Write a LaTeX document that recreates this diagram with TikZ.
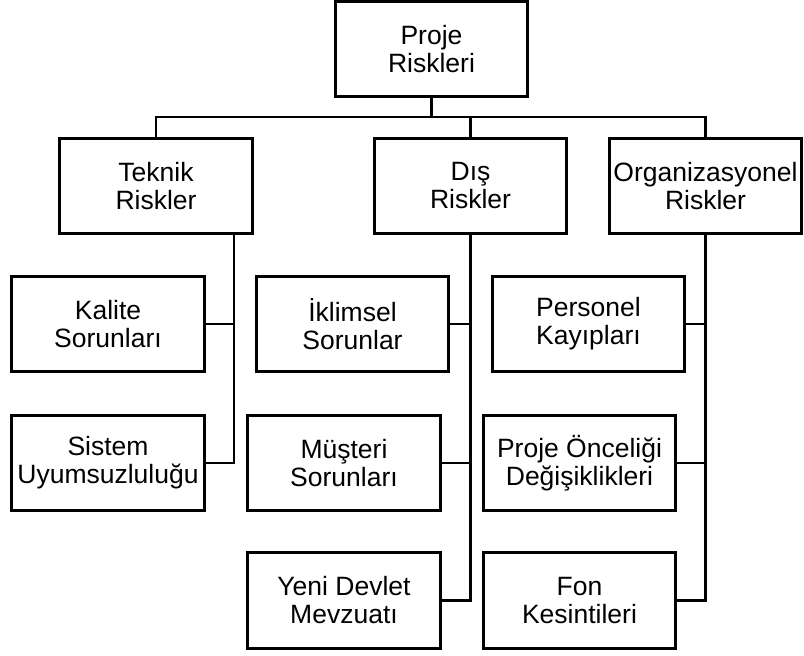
\documentclass[tikz,border=0pt]{standalone}
\usepackage{fontspec}
\setmainfont{Liberation Sans}
\usetikzlibrary{calc}

\begin{document}
\begin{tikzpicture}[x=1pt,y=-1pt,
        kutu/.style={draw, line width=2.6pt, minimum width=192.5pt, minimum height=95.5pt,
            inner sep=0pt, align=center, font=\fontsize{26.5}{28}\selectfont},
        hat/.style={line width=2.2pt}]
        \useasboundingbox (0,0) rectangle (804,656);
        \node[kutu] (proje) at (431.5,49) {Proje\\Riskleri};
        \node[kutu] (teknik) at (156,186) {Teknik\\Riskler};
        \node[kutu] (dis) at (470.5,186) {Dış\\Riskler};
        \node[kutu] (org) at (705.5,186) {Organizasyonel\\Riskler};
        \node[kutu] (kalite) at (108,324) {Kalite\\Sorunları};
        \node[kutu] (sistem) at (108,463) {Sistem\\Uyumsuzluluğu};
        \node[kutu] (iklim) at (352.5,324) {İklimsel\\Sorunlar};
        \node[kutu] (musteri) at (344,463) {Müşteri\\Sorunları};
        \node[kutu] (yeni) at (344,600.5) {Yeni Devlet\\Mevzuatı};
        \node[kutu] (personel) at (588.5,324) {Personel\\Kayıpları};
        \node[kutu] (oncelik) at (579.5,463) {Proje Önceliği\\Değişiklikleri};
        \node[kutu] (fon) at (579.5,600.5) {Fon\\Kesintileri};
        \coordinate (bus) at (431.5,117);
        \coordinate (tk) at ($(teknik.south)+(78,0)$);
        \draw[hat] (proje.south) -- (bus);
        \draw[hat] (teknik.north) |- (bus) -| (org.north);
        \draw[hat] (dis.north) -- (dis.north |- bus);
        \draw[hat] (tk) |- (kalite.east);
        \draw[hat] (tk) |- (sistem.east);
        \draw[hat] (dis.south) |- (iklim.east);
        \draw[hat] (dis.south) |- (musteri.east);
        \draw[hat] (dis.south) |- (yeni.east);
        \draw[hat] (org.south) |- (personel.east);
        \draw[hat] (org.south) |- (oncelik.east);
        \draw[hat] (org.south) |- (fon.east);
\end{tikzpicture}
\end{document}
